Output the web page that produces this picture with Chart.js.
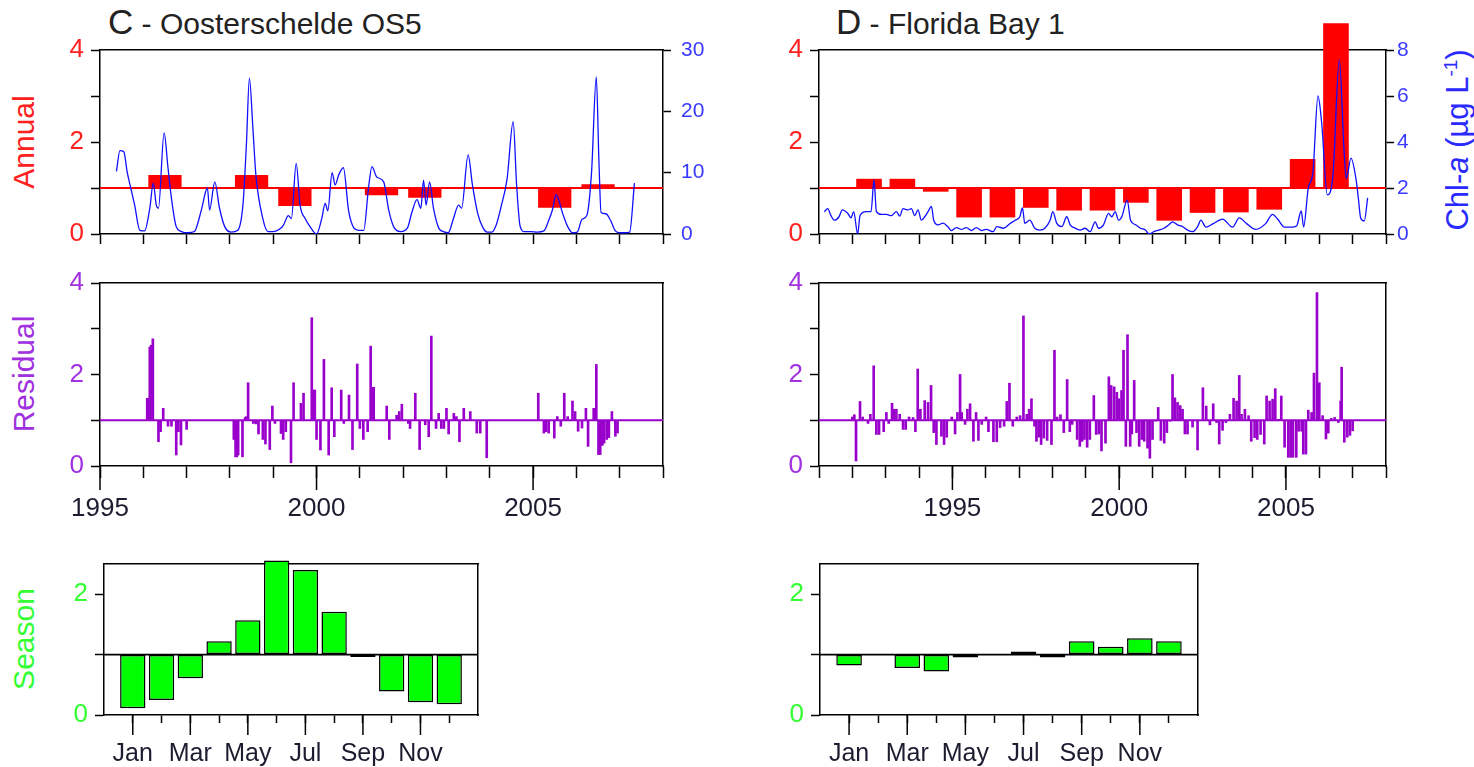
<!DOCTYPE html>
<html>
<head>
<meta charset="utf-8">
<script src="https://cdn.jsdelivr.net/npm/chart.js@4.4.1/dist/chart.umd.min.js"></script>
<style>
  html, body { margin: 0; padding: 0; background: #fff; }
  body { width: 1474px; height: 767px; position: relative; overflow: hidden; font-family: "Liberation Sans", Arial, sans-serif; }
  canvas { position: absolute; left: 0; top: 0; }
  .lbl { position: absolute; white-space: nowrap; }
  .rot { transform: translate(-50%, -50%) rotate(-90deg); }
</style>
</head>
<body>
<div class="lbl" style="left:108px; top:4px; font-size:30px; line-height:36px; color:#222;"><span style="font-size:35px">C</span> - Oosterschelde OS5</div>
<div class="lbl" style="left:836px; top:4px; font-size:30px; line-height:36px; color:#222;"><span style="font-size:35px">D</span> - Florida Bay 1</div>
<div class="lbl rot" style="left:24px; top:142px; font-size:30px; color:#ff2020;">Annual</div>
<div class="lbl rot" style="left:24px; top:374px; font-size:30px; color:#a030e0;">Residual</div>
<div class="lbl rot" style="left:24px; top:639px; font-size:30px; color:#33ff33;">Season</div>
<div class="lbl rot" style="left:1458px; top:140px; font-size:31px; color:#2a2aff;">Chl-<i>a</i> (µg L<sup style="font-size:19px">-1</sup>)</div>

<canvas id="annC" width="1474" height="767"></canvas>
<canvas id="resC" width="1474" height="767"></canvas>
<canvas id="seaC" width="1474" height="767"></canvas>
<canvas id="annD" width="1474" height="767"></canvas>
<canvas id="resD" width="1474" height="767"></canvas>
<canvas id="seaD" width="1474" height="767"></canvas>

<script>
// ---------- data ----------
const BASE = 1;

// C - Oosterschelde OS5
const yearsC = [1995, 1996, 1997, 1998, 1999, 2000, 2001, 2002, 2003, 2004, 2005, 2006, 2007];
const annualC = [1, 1.28, 1, 1.28, 0.61, 1, 0.84, 0.79, 1, 1, 0.57, 1.08, 1];

const chlC_t = [1995.38, 1995.46, 1995.55, 1995.63, 1995.71, 1995.8, 1995.92, 1996.03, 1996.15, 1996.23, 1996.3, 1996.35,
  1996.48, 1996.57, 1996.65, 1996.76, 1996.88, 1997.03, 1997.18, 1997.34, 1997.48, 1997.53, 1997.65, 1997.76, 1997.88,
  1998.03, 1998.18, 1998.3, 1998.38, 1998.45, 1998.53, 1998.6, 1998.76, 1998.88, 1999.0, 1999.15, 1999.24, 1999.35,
  1999.42, 1999.53, 1999.62, 1999.74, 1999.85, 2000.0, 2000.12, 2000.2, 2000.26, 2000.36, 2000.43, 2000.51, 2000.62,
  2000.74, 2000.86, 2000.97, 2001.09, 2001.2, 2001.28, 2001.39, 2001.55, 2001.67, 2001.78, 2001.94, 2002.1, 2002.2,
  2002.32, 2002.41, 2002.47, 2002.53, 2002.61, 2002.7, 2002.82, 2002.93, 2003.04, 2003.16, 2003.28, 2003.35, 2003.5,
  2003.6, 2003.72, 2003.83, 2003.94, 2004.05, 2004.15, 2004.26, 2004.4, 2004.54, 2004.62, 2004.7, 2004.8, 2004.95,
  2005.1, 2005.25, 2005.36, 2005.45, 2005.53, 2005.69, 2005.8, 2005.91, 2006.02, 2006.13, 2006.24, 2006.35, 2006.46,
  2006.52, 2006.57, 2006.68, 2006.79, 2006.9, 2007.0, 2007.12, 2007.23, 2007.34];
const chlC_v = [10.2, 13.6, 13.4, 10, 7.5, 4.7, 0.6, 0.5, 4.2, 8.3, 4.7, 4.2,
  16.5, 10.8, 5.8, 1.2, 0.4, 0.2, 0.4, 3.9, 7.5, 3.9, 8.5, 4.2, 1.2,
  0.3, 0.6, 4.7, 14.5, 25.4, 17.3, 9.6, 2.5, 0.4, 0.4, 0.8, 1.5, 3,
  2.5, 11.5, 4.7, 2.5, 1.2, 0, 2.5, 5, 3.8, 10, 8, 9.6, 10.8,
  3.8, 1, 0.6, 0.6, 7.5, 11, 9.3, 8.5, 3.8, 1.2, 0.4, 1, 3.5,
  5.6, 4.2, 8.8, 4.7, 8.5, 4.2, 1, 0.4, 0.2, 2.5, 4.7, 4.2, 12.9,
  8, 3.4, 1.2, 0.3, 0.3, 1.5, 4.4, 9, 18.3, 8, 1.3, 0.4, 0.4,
  0.3, 0.5, 2.2, 4, 6.4, 3.2, 1.2, 0.2, 0.3, 2.4, 3, 10, 25.6,
  12, 3.5, 3.3, 2.2, 0.5, 0.2, 0.2, 0.3, 8.3];

const resC_t = [1996.09, 1996.12, 1996.15, 1996.18, 1996.22, 1996.35, 1996.4, 1996.46, 1996.57, 1996.65, 1996.76, 1996.81,
  1996.87, 1997.0, 1998.09, 1998.13, 1998.16, 1998.19, 1998.29, 1998.35, 1998.38, 1998.42, 1998.54, 1998.6, 1998.66,
  1998.76, 1998.82, 1998.92, 1998.98, 1999.04, 1999.18, 1999.23, 1999.29, 1999.41, 1999.47, 1999.64, 1999.7, 1999.89,
  1999.93, 1999.96, 2000.0, 2000.09, 2000.17, 2000.28, 2000.35, 2000.41, 2000.57, 2000.63, 2000.75, 2000.83, 2000.94,
  2001.0, 2001.08, 2001.18, 2001.25, 2001.29, 2001.32, 2001.62, 2001.68, 2001.85, 2001.91, 2001.97, 2002.12, 2002.16,
  2002.28, 2002.38, 2002.51, 2002.59, 2002.65, 2002.76, 2002.82, 2002.88, 2002.94, 2003.0, 2003.05, 2003.17, 2003.23,
  2003.3, 2003.4, 2003.55, 2003.7, 2003.78, 2003.93, 2005.12, 2005.25, 2005.3, 2005.36, 2005.49, 2005.56, 2005.64,
  2005.72, 2005.8, 2005.91, 2005.97, 2006.04, 2006.13, 2006.22, 2006.27, 2006.4, 2006.46, 2006.51, 2006.55, 2006.6,
  2006.64, 2006.7, 2006.75, 2006.82, 2006.9, 2006.95];
const resC_v = [1.48, 1.48, 2.6, 2.64, 2.78, 0.53, 0.75, 1.26, 0.87, 0.87, 0.24, 0.75,
  0.46, 0.8, 0.58, 0.2, 0.2, 0.24, 0.2, 1.06, 1.08, 1.82, 0.93, 0.92, 0.7,
  0.58, 0.48, 0.36, 1.31, 0.93, 0.71, 0.58, 0.75, 0.07, 1.82, 1.37, 1.59, 3.24,
  1.66, 1.66, 0.58, 0.35, 2.33, 0.24, 1.71, 0.64, 1.66, 0.93, 1.55, 0.36, 2.23,
  0.82, 0.58, 0.75, 2.62, 1.72, 1.72, 1.31, 0.58, 1.11, 1.19, 1.35, 0.93, 0.82,
  1.59, 0.36, 0.9, 0.64, 2.84, 0.82, 1.15, 0.82, 0.82, 1.26, 0.7, 1.15, 1.08,
  0.53, 1.26, 1.19, 0.72, 0.72, 0.18, 1.59, 0.72, 0.75, 0.72, 0.61, 1.08, 0.87,
  1.59, 1.08, 1.42, 1.19, 0.76, 0.83, 1.26, 0.43, 1.26, 2.22, 0.25, 0.25, 0.45,
  0.5, 0.58, 0.62, 1.19, 0.65, 0.72];

const monthsC = [1, 2, 3, 4, 5, 6, 7, 8, 9, 10, 11, 12];
const seasonC = [0.11, 0.25, 0.61, 1.22, 1.57, 2.56, 2.4, 1.71, 0.96, 0.39, 0.21, 0.18];

// D - Florida Bay 1
const yearsD = [1991, 1992, 1993, 1994, 1995, 1996, 1997, 1998, 1999, 2000, 2001, 2002, 2003, 2004, 2005, 2006, 2007];
const annualD = [1, 1.2, 1.2, 0.92, 0.36, 0.36, 0.57, 0.51, 0.51, 0.68, 0.29, 0.46, 0.47, 0.53, 1.63, 4.58, 1];

const chlD_t = [1991.16, 1991.26, 1991.36, 1991.46, 1991.6, 1991.7, 1991.86, 1991.96, 1992.04, 1992.16, 1992.23, 1992.41,
  1992.56, 1992.65, 1992.72, 1992.87, 1993.02, 1993.17, 1993.32, 1993.42, 1993.52, 1993.67, 1993.77, 1993.87, 1993.97,
  1994.07, 1994.17, 1994.27, 1994.37, 1994.44, 1994.57, 1994.72, 1994.87, 1994.97, 1995.12, 1995.27, 1995.42, 1995.57,
  1995.72, 1995.87, 1996.02, 1996.22, 1996.33, 1996.53, 1996.73, 1996.88, 1997.02, 1997.1, 1997.17, 1997.32, 1997.47,
  1997.62, 1997.77, 1997.93, 1998.01, 1998.13, 1998.28, 1998.43, 1998.53, 1998.68, 1998.83, 1998.98, 1999.13, 1999.28,
  1999.38, 1999.53, 1999.68, 1999.78, 1999.88, 1999.98, 2000.08, 2000.24, 2000.34, 2000.49, 2000.64, 2000.79, 2000.89,
  2001.04, 2001.19, 2001.34, 2001.49, 2001.6, 2001.75, 2001.9, 2002.05, 2002.2, 2002.35, 2002.45, 2002.6, 2002.82,
  2003.1, 2003.4, 2003.6, 2003.82, 2004.1, 2004.39, 2004.6, 2004.75, 2004.96, 2005.17, 2005.32, 2005.46, 2005.53,
  2005.67, 2005.81, 2005.96, 2006.07, 2006.24, 2006.41, 2006.6, 2006.74, 2006.81, 2006.95, 2007.1, 2007.17, 2007.24,
  2007.35, 2007.45];
const chlD_v = [0.97, 1.1, 0.8, 0.6, 0.75, 1.05, 0.9, 0.7, 0.97, 0, 0.8, 0.97,
  0.97, 2.35, 0.97, 0.85, 0.85, 0.8, 0.97, 0.78, 1.1, 1.05, 1.1, 0.8, 1.05,
  0.6, 0.75, 0.97, 1.2, 0.6, 0.4, 0.47, 0.3, 0.15, 0.28, 0.2, 0.28, 0.15,
  0.28, 0.15, 0.2, 0.1, 0.32, 0.25, 0.46, 0.6, 0.75, 1.13, 0.46, 0.6, 0.25,
  0.17, 0.25, 0.6, 0.97, 0.46, 0.32, 0.75, 0.4, 0.25, 0.17, 0.25, 0.1, 0.53,
  0.25, 0.4, 0.9, 0.75, 0.97, 0.6, 0.75, 1.47, 0.6, 0.4, 0.25, 0.17, 0,
  0.1, 0.17, 0.25, 0.4, 0.53, 0.4, 0.32, 0.17, 0.1, 0.32, 0.6, 0.3, 0.45,
  0.65, 0.3, 0.7, 0.45, 0.2, 0.45, 0.85, 0.65, 0.3, 0.3, 0.35, 1.0, 0.3,
  2.0, 2.7, 6.0, 4.86, 1.7, 2.57, 7.57, 3.7, 2.4, 3.3, 2.4, 1.57, 0.7,
  0.57, 1.57];

const resD_t = [1992.0, 1992.06, 1992.11, 1992.23, 1992.31, 1992.47, 1992.54, 1992.64, 1992.72, 1992.8, 1992.94, 1993.02,
  1993.09, 1993.19, 1993.24, 1993.32, 1993.42, 1993.52, 1993.6, 1993.7, 1993.82, 1993.89, 1993.96, 1994.04, 1994.17,
  1994.27, 1994.36, 1994.44, 1994.52, 1994.67, 1994.75, 1994.83, 1994.98, 1995.08, 1995.15, 1995.23, 1995.28, 1995.38,
  1995.45, 1995.53, 1995.63, 1995.71, 1995.78, 1995.88, 1996.01, 1996.08, 1996.23, 1996.33, 1996.43, 1996.55, 1996.63,
  1996.71, 1996.81, 1996.93, 1997.03, 1997.13, 1997.23, 1997.3, 1997.37, 1997.46, 1997.52, 1997.59, 1997.66, 1997.74,
  1997.84, 1997.97, 1998.06, 1998.14, 1998.24, 1998.34, 1998.44, 1998.52, 1998.59, 1998.74, 1998.82, 1998.89, 1998.96,
  1999.04, 1999.12, 1999.24, 1999.31, 1999.39, 1999.47, 1999.59, 1999.69, 1999.76, 1999.85, 1999.93, 1999.99, 2000.07,
  2000.13, 2000.2, 2000.25, 2000.33, 2000.38, 2000.45, 2000.52, 2000.6, 2000.68, 2000.75, 2000.85, 2000.92, 2001.0,
  2001.1, 2001.17, 2001.25, 2001.35, 2001.43, 2001.53, 2001.6, 2001.67, 2001.75, 2001.83, 2001.9, 2001.97, 2002.05,
  2002.2, 2002.35, 2002.51, 2002.61, 2002.72, 2002.82, 2002.92, 2003.0, 2003.1, 2003.2, 2003.32, 2003.43, 2003.52,
  2003.6, 2003.67, 2003.77, 2003.88, 2003.96, 2004.06, 2004.14, 2004.24, 2004.35, 2004.42, 2004.51, 2004.6, 2004.68,
  2004.78, 2004.86, 2004.96, 2005.07, 2005.14, 2005.21, 2005.31, 2005.38, 2005.47, 2005.52, 2005.6, 2005.67, 2005.77,
  2005.84, 2005.93, 2006.0, 2006.1, 2006.2, 2006.27, 2006.36, 2006.46, 2006.57, 2006.64, 2006.67, 2006.75, 2006.84,
  2006.92, 2007.0];
const resD_v = [1.07, 1.12, 0.11, 1.41, 1.07, 0.93, 1.13, 2.19, 0.69, 0.69, 0.75, 1.17,
  0.93, 1.37, 1.24, 1.24, 1.13, 0.8, 0.8, 1.07, 1.06, 0.75, 2.12, 1.24, 1.43,
  1.39, 1.76, 0.73, 0.47, 0.65, 0.47, 0.63, 1.07, 0.7, 1.17, 2.0, 1.17, 0.91,
  1.24, 1.36, 0.54, 1.17, 0.56, 0.91, 1.07, 0.75, 0.53, 0.53, 0.84, 0.87, 1.41,
  1.81, 0.87, 1.07, 1.1, 3.28, 1.13, 1.24, 1.47, 0.87, 0.54, 0.63, 0.47, 0.61,
  0.56, 0.47, 2.53, 1.07, 1.12, 0.73, 1.89, 0.75, 0.91, 0.58, 0.43, 0.54, 0.58,
  0.41, 0.58, 1.54, 0.69, 0.7, 0.33, 0.5, 1.95, 1.76, 1.73, 1.61, 1.47, 1.65,
  2.53, 0.43, 2.87, 0.43, 0.7, 1.87, 0.73, 0.43, 0.58, 0.54, 0.39, 0.17, 0.58,
  0.98, 1.28, 0.56, 0.5, 0.73, 0.98, 2.0, 1.49, 1.39, 1.32, 1.24, 0.7, 0.7,
  0.85, 0.35, 1.71, 1.31, 0.9, 1.36, 0.95, 0.48, 0.78, 0.95, 1.13, 1.48, 1.42,
  1.98, 1.13, 1.24, 1.1, 0.54, 0.62, 0.58, 0.69, 0.48, 1.53, 1.42, 1.46, 1.69,
  1.02, 1.53, 0.41, 0.19, 0.19, 0.19, 0.19, 0.76, 0.76, 0.26, 0.26, 1.22, 1.17,
  2.03, 3.79, 1.82, 1.1, 0.59, 0.72, 1.04, 1.06, 0.95, 1.42, 2.16, 0.52, 0.63,
  0.67, 0.77];

const monthsD = [1, 2, 3, 4, 5, 6, 7, 8, 9, 10, 11, 12];
const seasonD = [0.82, 1.0, 0.78, 0.72, 0.95, 1.0, 1.05, 0.95, 1.22, 1.13, 1.27, 1.22];

// tick labels
const yearLabels = [1995, 2000, 2005];
const monthTicks = [1, 3, 5, 7, 9, 11];
const monthNames = ['Jan', 'Feb', 'Mar', 'Apr', 'May', 'Jun', 'Jul', 'Aug', 'Sep', 'Oct', 'Nov', 'Dec'];

// ---------- styling / layout ----------
const W = 1474, H = 767;
const BLACK = '#000';
const RED = '#ff0000', BLUE = '#1010ff', PURPLE = '#9900cc', GREEN = '#00ff00';
const RED_TXT = '#ff2020', BLUE_TXT = '#3a3aff', PURPLE_TXT = '#a030e0', GREEN_TXT = '#33ff33', DARK = '#1c1c30';

Chart.defaults.font.family = '"Liberation Sans", Arial, sans-serif';

// plot areas in page pixels
const areas = {
  annC: { l: 100, t: 50, r: 663, b: 234 },
  resC: { l: 100, t: 283, r: 663, b: 466 },
  seaC: { l: 104, t: 564, r: 478, b: 715 },
  annD: { l: 819, t: 50, r: 1386, b: 234 },
  resD: { l: 819, t: 283, r: 1386, b: 466 },
  seaD: { l: 820, t: 564, r: 1198, b: 715 },
};

const border = { display: true, color: BLACK, width: 1.5 };
const tickGrid = len => ({ display: true, drawOnChartArea: false, drawTicks: true, tickLength: len, tickColor: BLACK, tickWidth: 1.5, offset: false });

const leftY = (max, color, keep) => ({
  type: 'linear', position: 'left', min: 0, max, border, grid: tickGrid(9),
  afterBuildTicks: s => { s.ticks = s.ticks.filter(t => t.value <= keep); },
  ticks: { stepSize: 1, maxTicksLimit: 100, color, font: { size: 26 }, padding: 7,
    callback: v => (v % 2 === 0 ? String(v) : '') }
});
const rightY = (max, step, pad) => ({
  type: 'linear', position: 'right', min: 0, max, border, grid: tickGrid(8),
  ticks: { stepSize: step, maxTicksLimit: 100, color: BLUE_TXT, font: { size: 21 }, padding: pad, callback: v => String(v) }
});
const frame = (pos, min, max) => ({
  type: 'linear', position: pos, min, max, border, grid: { display: false }, ticks: { display: false }
});
const yearX = (min, max, labels) => ({
  type: 'linear', position: 'bottom', min, max, offset: false, border, grid: tickGrid(labels ? 12 : 10),
  ticks: { stepSize: 1, maxTicksLimit: 100, autoSkip: false, maxRotation: 0, color: DARK, font: { size: 26 }, padding: 15,
    callback: v => (labels && yearLabels.includes(v) ? String(v) : '') }
});
const monthX = () => ({
  type: 'linear', position: 'bottom', min: 0, max: 13, offset: false, border, grid: tickGrid(8),
  afterBuildTicks: s => { s.ticks = s.ticks.filter(t => t.value >= 1 && t.value <= 12); },
  ticks: { stepSize: 1, maxTicksLimit: 100, autoSkip: false, maxRotation: 0, color: DARK, font: { size: 25 }, padding: 16,
    callback: v => (monthTicks.includes(v) ? monthNames[v - 1] : '') }
});

// longer tick marks on labelled positions
const longTicks = (values, len) => ({
  id: 'longTicks',
  afterDraw(chart) {
    const s = chart.scales.x, c = chart.ctx;
    c.save();
    c.strokeStyle = BLACK;
    c.lineWidth = 1.5;
    values.forEach(v => {
      const px = s.getPixelForValue(v);
      c.beginPath();
      c.moveTo(px, s.top);
      c.lineTo(px, s.top + len);
      c.stroke();
    });
    c.restore();
  }
});

const zip = (xs, ys) => xs.map((x, i) => ({ x, y: ys[i] }));
const baseline = (min, max, color) => ({
  type: 'line', data: [{ x: min, y: BASE }, { x: max, y: BASE }], borderColor: color, borderWidth: 1.8,
  pointRadius: 0, order: 1
});
const chlLine = (ts, vs) => ({
  type: 'line', data: zip(ts, vs), yAxisID: 'y2', borderColor: BLUE, borderWidth: 1.3,
  pointRadius: 0, cubicInterpolationMode: 'monotone', order: 0
});
const annualBars = (years, vals) => ({
  type: 'bar', data: years.map((y, i) => ({ x: y + 0.5, y: vals[i] })), base: BASE,
  backgroundColor: RED, borderWidth: 0, categoryPercentage: 0.8, barPercentage: 0.96, clip: false, order: 2
});
const residBars = (ts, vs) => ({
  type: 'bar', data: zip(ts, vs), base: BASE, backgroundColor: PURPLE, borderWidth: 0, barThickness: 2, order: 2
});
const seasonBars = (ms, vs) => ({
  type: 'bar', data: zip(ms, vs), base: BASE, backgroundColor: GREEN, borderColor: BLACK, borderWidth: 1.5,
  borderSkipped: false, categoryPercentage: 1, barPercentage: 0.88, clip: false, order: 2
});

// each canvas covers the page; axis boxes are sized so the plot area lands on the given rectangle
const panel = (id, scales, datasets, plugins) => {
  const a = areas[id];
  Object.values(scales).forEach(sc => {
    if (sc.position === 'left') sc.afterFit = s => { s.width = a.l; };
    else if (sc.position === 'right') sc.afterFit = s => { s.width = W - a.r; };
    else if (sc.position === 'bottom') sc.afterFit = s => { s.height = H - a.b; };
    else sc.afterFit = s => { s.height = 0; };
  });
  return new Chart(document.getElementById(id), {
    type: 'bar',
    data: { datasets },
    options: {
      responsive: false,
      animation: false,
      layout: { padding: { left: 0, top: a.t, right: 0, bottom: 0 } },
      plugins: { legend: { display: false }, tooltip: { enabled: false } },
      scales
    },
    plugins: plugins || []
  });
};

// ---------- C column ----------
panel('annC', {
  x: yearX(1995, 2008, false),
  xTop: frame('top', 1995, 2008),
  y: leftY(4, RED_TXT, 4),
  y2: rightY(30, 10, 10)
}, [chlLine(chlC_t, chlC_v), baseline(1995, 2008, RED), annualBars(yearsC, annualC)]);

panel('resC', {
  x: yearX(1995, 2008, true),
  xTop: frame('top', 1995, 2008),
  y: leftY(4, PURPLE_TXT, 4),
  yR: frame('right', 0, 4)
}, [baseline(1995, 2008, PURPLE), residBars(resC_t, resC_v)], [longTicks(yearLabels, 24)]);

panel('seaC', {
  x: monthX(),
  xTop: frame('top', 0, 13),
  y: leftY(2.5, GREEN_TXT, 2),
  yR: frame('right', 0, 2.5)
}, [baseline(0, 13, BLACK), seasonBars(monthsC, seasonC)], [longTicks(monthTicks, 20)]);

// ---------- D column ----------
panel('annD', {
  x: yearX(1991, 2008, false),
  xTop: frame('top', 1991, 2008),
  y: leftY(4, RED_TXT, 4),
  y2: rightY(8, 2, 3)
}, [chlLine(chlD_t, chlD_v), baseline(1991, 2008, RED), annualBars(yearsD, annualD)]);

panel('resD', {
  x: yearX(1991, 2008, true),
  xTop: frame('top', 1991, 2008),
  y: leftY(4, PURPLE_TXT, 4),
  yR: frame('right', 0, 4)
}, [baseline(1991, 2008, PURPLE), residBars(resD_t, resD_v)], [longTicks(yearLabels, 24)]);

panel('seaD', {
  x: monthX(),
  xTop: frame('top', 0, 13),
  y: leftY(2.5, GREEN_TXT, 2),
  yR: frame('right', 0, 2.5)
}, [baseline(0, 13, BLACK), seasonBars(monthsD, seasonD)], [longTicks(monthTicks, 20)]);
</script>
</body>
</html>
